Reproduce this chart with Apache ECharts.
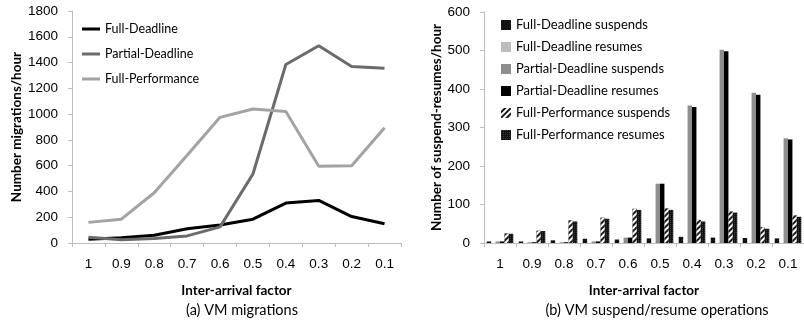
<!DOCTYPE html>
<html>
<head>
<meta charset="utf-8">
<script src="https://cdn.jsdelivr.net/npm/echarts@6/dist/echarts.min.js"></script>
<style>html,body{margin:0;padding:0;background:#fff}#c{width:804px;height:324px}</style>
</head>
<body>
<div id="c"></div>
<script>
// ---- data ----
const categories = ['1','0.9','0.8','0.7','0.6','0.5','0.4','0.3','0.2','0.1'];
// (a) VM migrations
const fullDeadline = [30, 40, 60, 110, 140, 185, 310, 330, 205, 150];
const partialDeadline = [45, 25, 35, 55, 125, 535, 1385, 1530, 1370, 1355];
const fullPerformance = [160, 185, 390, 680, 975, 1040, 1020, 595, 600, 895];
const migTicks = [0, 200, 400, 600, 800, 1000, 1200, 1400, 1600, 1800];
// (b) suspend/resume operations
const fdSuspends = [4, 4, 7, 11, 9, 12, 16, 14, 13, 12];
const fdResumes = [0, 0, 0, 0, 0, 0, 0, 0, 0, 0];
const pdSuspends = [4, 2, 2, 4, 14, 154, 357, 502, 390, 272];
const pdResumes = [4, 2, 2, 4, 14, 154, 353, 498, 385, 269];
const fpSuspends = [25, 32, 59, 66, 89, 90, 60, 82, 41, 72];
const fpResumes = [24, 31, 56, 63, 86, 86, 56, 79, 37, 68];
const srTicks = [0, 100, 200, 300, 400, 500, 600];

const axisGray = '#bdbdbd';
const tickFont = {fontFamily: 'Liberation Sans', fontSize: 13.5, color: '#000'};
const nameFont = {fontFamily: 'Lato', fontSize: 13.5, fontWeight: 'bold', color: '#000'};

function xAx(gi) {
  return {
    type: 'category', gridIndex: gi, data: categories,
    name: 'Inter-arrival factor', nameLocation: 'middle', nameGap: 41, nameTextStyle: nameFont,
    axisLine: {lineStyle: {color: axisGray, width: 1}},
    axisTick: {show: true, length: 4, lineStyle: {color: axisGray}},
    axisLabel: Object.assign({margin: 14}, tickFont),
    splitLine: {show: false}
  };
}
function yAx(gi, ticks, name, gap) {
  return {
    type: 'value', gridIndex: gi, min: ticks[0], max: ticks[ticks.length - 1],
    interval: ticks[1] - ticks[0],
    name: name, nameLocation: 'middle', nameGap: gap, nameTextStyle: nameFont,
    axisLine: {show: true, lineStyle: {color: axisGray, width: 1}},
    axisTick: {show: true, length: 4, lineStyle: {color: axisGray}},
    axisLabel: Object.assign({margin: 14, formatter: function (v) { return String(v); }}, tickFont),
    splitLine: {show: false}
  };
}
function line(name, data, color) {
  return {
    name: name, type: 'line', xAxisIndex: 0, yAxisIndex: 0, data: data,
    symbol: 'none', lineStyle: {color: color, width: 3}, itemStyle: {color: color},
    animation: false
  };
}
function bar(name, data, color, decal) {
  const s = {
    name: name, type: 'bar', xAxisIndex: 1, yAxisIndex: 1, data: data,
    barGap: '0%', barCategoryGap: '17%',
    itemStyle: {color: color}, animation: false
  };
  if (decal) s.itemStyle.decal = decal;
  return s;
}
const dotDecal = {symbol: 'rect', symbolSize: 0.5, dashArrayX: [1, 2], dashArrayY: [1, 2], color: 'rgba(255,255,255,0.3)'};
const dotDecal2 = {symbol: 'rect', symbolSize: 0.7, dashArrayX: [1, 1], dashArrayY: [1, 1], color: 'rgba(255,255,255,0.5)'};
const hatchDecal = {symbol: 'rect', symbolSize: 1, dashArrayX: [1, 0], dashArrayY: [1.5, 1.5], rotation: -Math.PI / 4, color: '#ffffff'};

const chart = echarts.init(document.getElementById('c'), null, {renderer: 'canvas'});
chart.setOption({
  animation: false,
  backgroundColor: '#fff',
  title: [
    {text: '(a) VM migrations', left: 237, top: 298, textAlign: 'center',
     textStyle: {fontFamily: 'Lato', fontSize: 14.5, fontWeight: 'normal', color: '#000'}},
    {text: '(b) VM suspend/resume operations', left: 652, top: 298, textAlign: 'center',
     textStyle: {fontFamily: 'Lato', fontSize: 14.5, fontWeight: 'normal', color: '#000'}}
  ],
  grid: [
    {left: 72, top: 11, width: 329, bottom: 81, containLabel: false},
    {left: 484, top: 12, width: 328, bottom: 81, containLabel: false}
  ],
  legend: [
    {orient: 'vertical', left: 82, top: 22, padding: 0, itemWidth: 18, itemHeight: 3, itemGap: 11, itemTextGap: 1,
     icon: 'rect', textStyle: {fontFamily: 'Lato', fontSize: 12.5, color: '#000', lineHeight: 14},
     data: ['Full-Deadline', 'Partial-Deadline', 'Full-Performance']},
    {orient: 'vertical', left: 501, top: 18, padding: 0, itemWidth: 10, itemHeight: 10, itemGap: 8, itemTextGap: 5,
     icon: 'rect', textStyle: {fontFamily: 'Lato', fontSize: 13, color: '#000', lineHeight: 14},
     data: ['Full-Deadline suspends', 'Full-Deadline resumes', 'Partial-Deadline suspends',
            'Partial-Deadline resumes', 'Full-Performance suspends', 'Full-Performance resumes']}
  ],
  xAxis: [xAx(0), xAx(1)],
  yAxis: [yAx(0, migTicks, 'Number migrations/hour', 47), yAx(1, srTicks, 'Number of suspend-resumes/hour', 37)],
  series: [
    line('Full-Deadline', fullDeadline, '#000000'),
    line('Partial-Deadline', partialDeadline, '#6b6b6b'),
    line('Full-Performance', fullPerformance, '#a3a3a3'),
    bar('Full-Deadline suspends', fdSuspends, '#111111', dotDecal),
    bar('Full-Deadline resumes', fdResumes, '#bdbdbd'),
    bar('Partial-Deadline suspends', pdSuspends, '#8e8e8e'),
    bar('Partial-Deadline resumes', pdResumes, '#000000'),
    bar('Full-Performance suspends', fpSuspends, '#1a1a1a', hatchDecal),
    bar('Full-Performance resumes', fpResumes, '#111111', dotDecal2)
  ]
});
</script>
</body>
</html>
